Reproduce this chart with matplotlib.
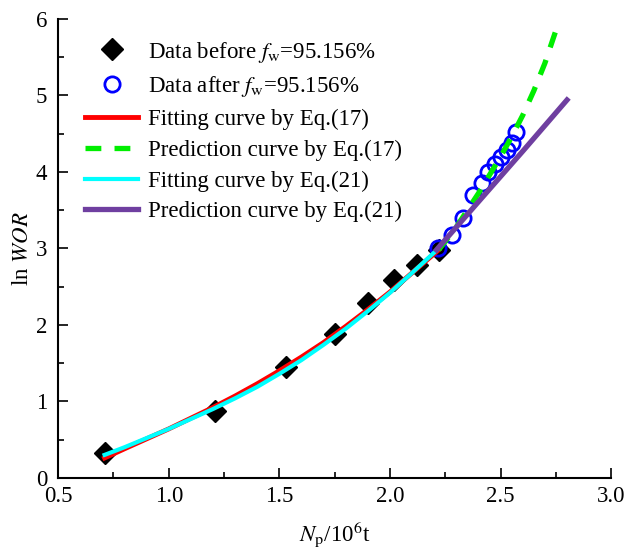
import numpy as np
import matplotlib
matplotlib.use('Agg')
import matplotlib.pyplot as plt
from matplotlib.ticker import MultipleLocator

plt.rcParams['font.family'] = ['Liberation Serif', 'DejaVu Serif']
plt.rcParams['mathtext.fontset'] = 'stix'

# measured data
np_before = [0.71, 1.21, 1.53, 1.75, 1.90, 2.02, 2.12, 2.22]
lnwor_before = [0.32, 0.87, 1.45, 1.88, 2.28, 2.58, 2.78, 2.98]
np_after = [2.215, 2.28, 2.33, 2.375, 2.415, 2.445, 2.475, 2.50, 2.53, 2.55, 2.57]
lnwor_after = [3.00, 3.18, 3.40, 3.70, 3.86, 4.00, 4.10, 4.20, 4.28, 4.38, 4.52]

# Eq.(17) curves
fit17_x = [0.71, 0.8, 0.9, 1.0, 1.1, 1.2, 1.3, 1.4, 1.5, 1.6, 1.7, 1.8, 1.9, 2.0, 2.1, 2.22]
fit17_y = [0.26, 0.38, 0.51, 0.64, 0.78, 0.92, 1.07, 1.23, 1.40, 1.58, 1.77, 1.98, 2.20, 2.43, 2.68, 2.98]
pred17_x = [2.22, 2.3, 2.4, 2.5, 2.55, 2.6, 2.65, 2.7, 2.75]
pred17_y = [2.98, 3.28, 3.72, 4.20, 4.46, 4.74, 5.06, 5.42, 5.85]

# Eq.(21) curves
fit21_x = [0.71, 0.8, 0.9, 1.0, 1.1, 1.2, 1.3, 1.4, 1.5, 1.6, 1.7, 1.8, 1.9, 2.0, 2.1, 2.22]
fit21_y = [0.30, 0.40, 0.52, 0.64, 0.77, 0.90, 1.04, 1.19, 1.36, 1.54, 1.74, 1.95, 2.18, 2.42, 2.68, 3.00]
pred21_x = [2.21, 2.4, 2.6, 2.8]
pred21_y = [2.98, 3.61, 4.27, 4.94]

fig = plt.figure(figsize=(6.25, 5.55), dpi=100)
ax = fig.add_axes([0.093, 0.139, 0.885, 0.827])

ax.plot(np_before, lnwor_before, 'D', color='black', markersize=11, zorder=2,
        label='Data before $f_\\mathrm{w}$=95.156%')
ax.plot(np_after, lnwor_after, 'o', mfc='none', mec='blue', mew=2, markersize=11, zorder=3,
        label='Data after $f_\\mathrm{w}$=95.156%')
ax.plot(fit17_x, fit17_y, '-', color='red', lw=3.5, zorder=4,
        label='Fitting curve by Eq.(17)')
ax.plot(pred17_x, pred17_y, '--', color='#00ee00', lw=3.8, dashes=(3, 2.5), zorder=6,
        label='Prediction curve by Eq.(17)')
ax.plot(fit21_x, fit21_y, '-', color='cyan', lw=3, zorder=5,
        label='Fitting curve by Eq.(21)')
ax.plot(pred21_x, pred21_y, '-', color='#6f3fa0', lw=3.8, zorder=7,
        label='Prediction curve by Eq.(21)')

ax.set_xlim(0.5, 3.0)
ax.set_ylim(0, 6)
ax.xaxis.set_major_locator(MultipleLocator(0.5))
ax.xaxis.set_minor_locator(MultipleLocator(0.25))
ax.yaxis.set_major_locator(MultipleLocator(1))
ax.yaxis.set_minor_locator(MultipleLocator(0.5))
ax.xaxis.set_major_formatter(matplotlib.ticker.FormatStrFormatter('%.1f'))
ax.tick_params(which='both', direction='in', labelsize=16.5, width=1.2)
ax.tick_params(which='major', length=7)
ax.tick_params(which='minor', length=4)
ax.tick_params(axis='x', pad=6)
ax.tick_params(axis='y', pad=8)
ax.spines['top'].set_visible(False)
ax.spines['right'].set_visible(False)
for s in ['left', 'bottom']:
    ax.spines[s].set_linewidth(1.5)

ax.set_xlabel('$N_\\mathrm{p}$/10$^6$t', fontsize=16.5, labelpad=9)
ax.set_ylabel('ln $WOR$', fontsize=16.5, labelpad=2)

ax.legend(loc='upper left', bbox_to_anchor=(0.02, 0.99), frameon=False, fontsize=16.5,
          handlelength=2.3, handletextpad=0.45, labelspacing=0.42, borderaxespad=0.3)

plt.savefig('out.png', dpi=100)
